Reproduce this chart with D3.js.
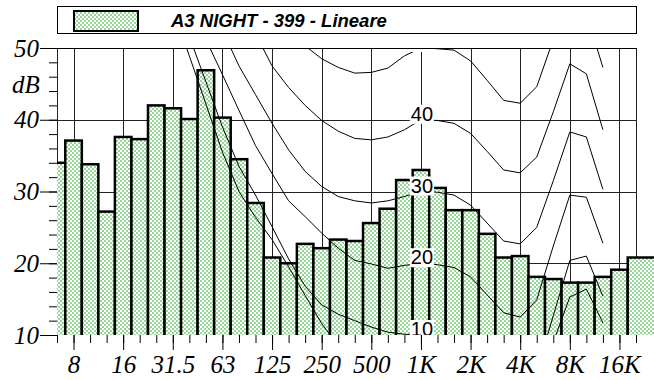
<!DOCTYPE html>
<html>
<head>
<meta charset="utf-8">
<script src="https://cdn.jsdelivr.net/npm/d3@7"></script>
<style>
  body { margin: 0; background: #fff; }
  svg { display: block; }
</style>
</head>
<body>
<div id="chart"></div>
<script>
// third-octave bands (bars)
const bands = ["6.3","8","10","12.5","16","20","25","31.5","40","50","63","80","100","125","160","200","250","315","400","500","630","800","1K","1.25K","1.6K","2K","2.5K","3.15K","4K","5K","6.3K","8K","10K","12.5K","16K","20K"];
const levels = [34.0, 37.1, 33.8, 27.2, 37.6, 37.3, 42.0, 41.6, 40.1, 46.9, 40.3, 34.5, 28.4, 20.8, 20.0, 22.7, 22.1, 23.3, 23.1, 25.6, 27.6, 31.6, 33.0, 30.5, 27.4, 27.4, 24.1, 20.8, 21.0, 18.1, 17.8, 17.3, 17.3, 18.1, 19.1, 20.8];

const octaveTicks = ["8","16","31.5","63","125","250","500","1K","2K","4K","8K","16K"];
const yTicks = [10, 20, 30, 40, 50];

// equal loudness curves, 31.5 Hz .. 12.5 kHz
const curveBands = bands.slice(7, 34);
const phon0  = [55.5, 48.9, 42.2, 35.5, 30.0, 26.4, 23.3, 19.5, 15.5, 11.6, 8.5, 6.5, 4.5, 3.0, 1.0, 0.0, -0.1, -0.5, -1.5, -3.0, -4.0, -4.0, -1.0, 9.0, 15.3, 16.4, 11.7];
const phon10 = [58.0, 51.6, 45.3, 39.0, 33.5, 29.5, 25.1, 20.6, 16.8, 14.2, 12.9, 12.0, 11.1, 10.4, 10.1, 10.0, 9.9, 9.5, 8.2, 5.6, 3.0, 2.6, 4.9, 12.7, 20.4, 21.0, 15.4];
const phon20 = [null, 56.1, 51.2, 46.3, 41.3, 36.4, 32.5, 28.7, 26.5, 24.2, 22.1, 20.4, 19.9, 19.3, 19.7, 20.0, 19.8, 19.4, 18.1, 15.6, 13.1, 12.5, 14.9, 22.4, 29.5, 29.2, 22.8];
const phon30 = [null, null, 57.0, 52.5, 47.5, 43.5, 39.5, 35.8, 32.8, 30.7, 29.3, 28.7, 28.4, 28.7, 29.3, 30.0, 29.9, 29.5, 28.1, 25.6, 23.1, 22.7, 25.0, 31.5, 38.3, 37.6, 30.3];
const phon40 = [null, null, null, null, 56.5, 52.0, 47.5, 44.5, 42.0, 39.9, 38.4, 37.4, 37.2, 37.6, 38.6, 40.0, 39.9, 39.5, 38.1, 35.6, 33.0, 32.6, 34.8, 41.1, 47.8, 46.4, 38.6];
const phon50 = [null, null, null, null, null, null, 55.5, 52.8, 50.3, 48.5, 47.3, 46.5, 46.6, 47.2, 48.9, 50.0, 49.9, 49.7, 48.2, 45.5, 42.7, 42.3, 44.6, 51.2, 57.8, 54.8, 47.3];
const curveLabels = [null, "10", "20", "30", "40", "50"];

const legendText = "A3 NIGHT - 399 - Lineare";

const W = 654, H = 380;
const pLeft = 57, pRight = 636, pTop = 48, pBottom = 335;
const serif = '"Liberation Serif", "Times New Roman", serif';
const sans = '"Liberation Sans", Arial, sans-serif';

const svg = d3.select('#chart').append('svg')
  .attr('width', W).attr('height', H);

const defs = svg.append('defs');
const pat = defs.append('pattern')
  .attr('id', 'checker')
  .attr('patternUnits', 'userSpaceOnUse')
  .attr('width', 4).attr('height', 4);
pat.append('rect').attr('width', 4).attr('height', 4).attr('fill', '#fff');
pat.append('rect').attr('width', 2).attr('height', 2).attr('fill', '#96d696');
pat.append('rect').attr('x', 2).attr('y', 2).attr('width', 2).attr('height', 2).attr('fill', '#96d696');

defs.append('clipPath').attr('id', 'plotClip')
  .append('rect').attr('x', pLeft).attr('y', pTop).attr('width', pRight - pLeft).attr('height', pBottom - pTop);
defs.append('clipPath').attr('id', 'barClip')
  .append('rect').attr('x', pLeft).attr('y', 0).attr('width', W - pLeft).attr('height', pBottom);

const x = d3.scalePoint().domain(bands).range([pLeft, pRight]);
const y = d3.scaleLinear().domain([10, 50]).range([pBottom, pTop]);
const bw = x.step();

// legend
svg.append('rect')
  .attr('x', 57.5).attr('y', 6.5).attr('width', 579).attr('height', 27)
  .attr('fill', '#fff').attr('stroke', '#000').attr('stroke-width', 1);
svg.append('rect')
  .attr('x', 74).attr('y', 11).attr('width', 64).attr('height', 20)
  .attr('fill', 'url(#checker)').attr('stroke', '#000').attr('stroke-width', 2);
svg.append('text')
  .attr('x', 171).attr('y', 27)
  .style('font-family', sans)
  .style('font-weight', 'bold').style('font-style', 'italic')
  .style('font-size', '18.5px')
  .text(legendText);

// grid + frame (behind bars)
const grid = svg.append('g').attr('stroke', '#222').attr('stroke-width', 1).attr('shape-rendering', 'crispEdges');
grid.selectAll('.hg').data([20, 30, 40]).enter().append('line')
  .attr('x1', pLeft).attr('x2', pRight)
  .attr('y1', d => Math.round(y(d)) + 0.5).attr('y2', d => Math.round(y(d)) + 0.5);
grid.selectAll('.vg').data(octaveTicks).enter().append('line')
  .attr('x1', d => Math.round(x(d)) + 0.5).attr('x2', d => Math.round(x(d)) + 0.5)
  .attr('y1', pTop).attr('y2', pBottom);
grid.append('line').attr('x1', pLeft + 0.5).attr('x2', pLeft + 0.5).attr('y1', pTop).attr('y2', pBottom);
grid.append('line').attr('x1', pRight + 0.5).attr('x2', pRight + 0.5).attr('y1', pTop).attr('y2', pBottom);

// bars
svg.append('g').attr('clip-path', 'url(#barClip)')
  .selectAll('rect').data(bands).enter().append('rect')
  .attr('x', d => x(d) - bw / 2)
  .attr('width', (d, i) => i === bands.length - 1 ? W : bw)
  .attr('y', (d, i) => y(levels[i]))
  .attr('height', (d, i) => pBottom + 10 - y(levels[i]))
  .attr('fill', 'url(#checker)')
  .attr('stroke', '#000').attr('stroke-width', 2.5);

// loudness curves
const line = d3.line()
  .defined(d => d.v != null)
  .x(d => x(d.f)).y(d => y(d.v));
const curves = [phon0, phon10, phon20, phon30, phon40, phon50];
const cg = svg.append('g').attr('clip-path', 'url(#plotClip)');
curves.forEach(vals => {
  cg.append('path')
    .datum(curveBands.map((f, i) => ({ f: f, v: vals[i] })))
    .attr('d', line)
    .attr('fill', 'none').attr('stroke', '#000').attr('stroke-width', 1);
});
curveLabels.forEach(lab => {
  if (!lab) return;
  const t = cg.append('text')
    .attr('x', x("1K") + 1).attr('y', y(+lab) + 1)
    .attr('text-anchor', 'middle')
    .style('font-family', sans)
    .style('font-size', '20px')
    .text(lab);
  const bb = t.node().getBBox();
  cg.insert('rect', () => t.node())
    .attr('x', bb.x - 1).attr('y', bb.y + 2).attr('width', bb.width + 2).attr('height', bb.height - 3)
    .attr('fill', '#fff');
});

// top border drawn over the curve labels
svg.append('line')
  .attr('x1', pLeft).attr('x2', pRight + 1)
  .attr('y1', pTop + 0.5).attr('y2', pTop + 0.5)
  .attr('stroke', '#000').attr('shape-rendering', 'crispEdges');

// x axis
const xMinor = d3.axisBottom(x).tickValues(bands).tickSize(8).tickFormat('');
const xMajor = d3.axisBottom(x).tickValues(octaveTicks).tickSize(15).tickPadding(5);
[xMinor, xMajor].forEach(ax => {
  const g = svg.append('g').attr('transform', `translate(0,${pBottom})`).call(ax);
  g.select('.domain').remove();
  g.selectAll('line').attr('stroke', '#000');
  g.selectAll('text').attr('fill', '#000')
    .style('font-size', '25px').style('font-style', 'italic')
    .style('font-family', serif);
});

// y axis
const yMinor = d3.axisLeft(y).tickValues(d3.range(10, 51, 2)).tickSize(8).tickFormat('');
const yMajor = d3.axisLeft(y).tickValues(yTicks).tickSize(17).tickPadding(1);
[yMinor, yMajor].forEach(ax => {
  const g = svg.append('g').attr('transform', `translate(${pLeft},0)`).call(ax);
  g.select('.domain').remove();
  g.selectAll('line').attr('stroke', '#000');
  g.selectAll('text').attr('fill', '#000')
    .style('font-size', '25px').style('font-style', 'italic')
    .style('font-family', serif);
});

svg.append('text')
  .attr('x', 26).attr('y', 93)
  .attr('text-anchor', 'middle')
  .style('font-family', serif)
  .style('font-size', '25px').style('font-style', 'italic')
  .text('dB');
</script>
</body>
</html>
